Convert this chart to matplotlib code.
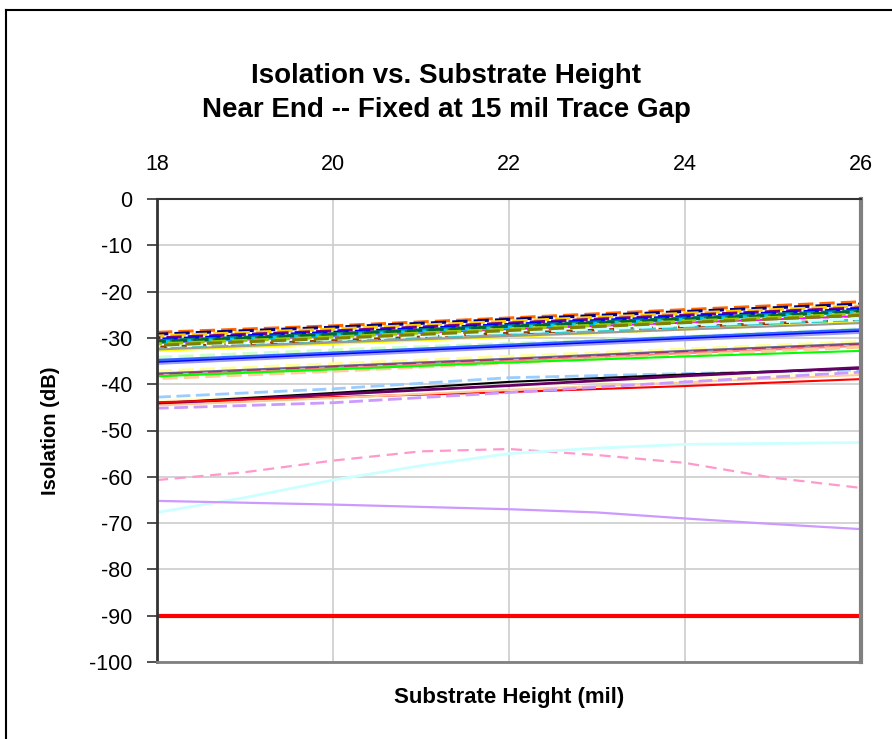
import matplotlib
matplotlib.use("Agg")
import matplotlib.pyplot as plt
from matplotlib.lines import Line2D

plt.rcParams['font.family'] = ['Liberation Sans', 'DejaVu Sans']
plt.rcParams['axes.unicode_minus'] = False

# substrate height (mil)
heights = [18, 20, 22, 24, 26]
heights_fine = [18, 19, 20, 21, 22, 23, 24, 25, 26]

# isolation (dB)
top_bundle = [
    [-28.8, -27.4, -25.7, -23.9, -22.2],
    [-29.2, -27.7, -26.0, -24.3, -22.7],
    [-29.6, -28.1, -26.4, -24.7, -23.1],
    [-30.0, -28.5, -26.8, -25.1, -23.5],
    [-30.3, -28.8, -27.1, -25.4, -23.8],
    [-30.6, -29.1, -27.4, -25.7, -24.1],
    [-30.9, -29.4, -27.7, -26.0, -24.4],
    [-30.8, -29.2, -27.5, -25.9, -24.3],
    [-31.3, -29.8, -28.1, -26.4, -24.8],
    [-31.6, -30.1, -28.4, -26.7, -25.1],
]
mid_bundle = [
    [-31.1, -29.6, -28.1, -26.7, -25.3],
    [-32.0, -30.6, -29.0, -27.6, -26.1],
    [-32.4, -31.0, -29.4, -27.8, -26.1],
    [-31.8, -30.3, -28.8, -27.3, -25.8],
    [-32.8, -31.3, -29.8, -28.2, -26.6],
    [-32.5, -31.0, -29.6, -28.2, -26.8],
]
blue_bundle = [
    [-34.2, -32.6, -31.2, -29.7, -28.0],
    [-34.9, -33.3, -31.6, -29.9, -28.3],
    [-35.3, -33.6, -31.9, -30.2, -28.6],
    [-35.6, -33.9, -32.2, -30.5, -28.9],
]
lower_bundle = [
    [-37.2, -35.6, -34.0, -32.4, -30.8],
    [-37.7, -36.1, -34.5, -32.8, -31.2],
    [-38.0, -36.4, -34.8, -33.1, -31.5],
    [-38.2, -36.6, -35.0, -33.3, -31.7],
    [-38.8, -37.2, -35.4, -33.7, -32.0],
    [-38.3, -36.8, -35.3, -34.0, -32.8],
]
bottom_bundle = [
    [-42.8, -41.0, -38.6, -37.7, -36.9],
    [-43.5, -42.0, -40.3, -38.8, -37.5],
    [-44.1, -41.9, -39.5, -37.9, -36.6],
    [-44.3, -42.2, -40.3, -38.2, -36.4],
    [-43.9, -42.8, -41.7, -40.4, -38.9],
    [-44.6, -43.0, -41.2, -39.6, -38.0],
    [-45.2, -44.0, -41.8, -39.5, -37.4],
]
pink_curve = [-60.7, -59.0, -56.5, -54.5, -54.0, -55.3, -57.0, -60.2, -62.4]
cyan_curve = [-67.7, -64.5, -60.7, -57.6, -55.0, -53.8, -53.0, -52.8, -52.6]
lavender_curve = [-65.2, -65.6, -66.0, -66.5, -67.0, -67.7, -69.0, -70.2, -71.3]
floor_line = [-90, -90, -90, -90, -90]

# styles: (color, dashed, width)
top_styles = [("#FF6600", True, 2.2), ("#000080", True, 2.2), ("#FFCC00", True, 2.2),
              ("#800080", True, 2.2), ("#0000FF", True, 2.2), ("#008080", True, 2.2),
              ("#00CCFF", True, 2.2), ("#006633", True, 2.2), ("#99CC00", True, 2.2),
              ("#808000", True, 2.2)]
mid_styles = [("#FF00FF", False, 1.5), ("#993300", True, 2.0), ("#33CCCC", True, 2.2),
              ("#CCFFFF", True, 2.2), ("#FFFF00", False, 1.5), ("#999999", False, 1.5)]
blue_styles = [("#CCFFCC", True, 2.2), ("#3366FF", False, 2.5), ("#0000FF", False, 1.5),
               ("#9999FF", False, 1.5)]
lower_styles = [("#FFFF99", True, 2.2), ("#666699", False, 1.5), ("#993366", True, 2.0),
                ("#FF8080", False, 1.5), ("#FFCC99", True, 2.2), ("#00FF00", False, 1.5)]
bottom_styles = [("#99CCFF", True, 2.0), ("#FFFFCC", False, 1.5), ("#000000", False, 1.5),
                 ("#660066", False, 2.0), ("#FF0000", False, 1.5), ("#FFCC99", False, 1.5),
                 ("#CC99FF", True, 2.0)]

fig = plt.figure(figsize=(8.92, 7.39), dpi=100)
ax = fig.add_axes([157 / 892, 1 - 662 / 739, (861 - 157) / 892, (662 - 199) / 739])

ax.grid(True, color="#cccccc", linewidth=1.2)
ax.set_axisbelow(True)

ax.plot(heights_fine, pink_curve, color="#FF99CC", linewidth=1.6, linestyle=(0, (5, 3)))
ax.plot(heights_fine, cyan_curve, color="#CCFFFF", linewidth=2.0)
ax.plot(heights_fine, lavender_curve, color="#CC99FF", linewidth=1.6)
ax.plot(heights, floor_line, color="#FF0000", linewidth=3.0)

for k, (group, styles) in enumerate([(bottom_bundle, bottom_styles), (lower_bundle, lower_styles),
                                     (blue_bundle, blue_styles), (mid_bundle, mid_styles),
                                     (top_bundle, top_styles)]):
    for i, (vals, (col, dashed, lw)) in enumerate(zip(group, styles)):
        ls = (i * 1.3, (5, 2)) if dashed else "-"
        ax.plot(heights, vals, color=col, linewidth=lw, linestyle=ls)

ax.set_xlim(18, 26)
ax.set_ylim(-100, 0)
ax.set_xticks([18, 20, 22, 24, 26])
ax.set_yticks(range(-100, 1, 10))
ax.xaxis.tick_top()
ax.tick_params(axis="x", length=0, pad=17, labelsize=15.5)
ax.tick_params(axis="y", direction="out", length=7, width=1.2, pad=11, labelsize=15.5,
               color="#333333")

ax.spines["left"].set_color("#333333")
ax.spines["left"].set_linewidth(2)
ax.spines["top"].set_color("#333333")
ax.spines["top"].set_linewidth(1.5)
ax.spines["bottom"].set_color("#808080")
ax.spines["bottom"].set_linewidth(2)
ax.spines["right"].set_color("#808080")
ax.spines["right"].set_linewidth(3)

fig.text(446 / 892, 1 - 76 / 739, "Isolation vs. Substrate Height", ha="center", va="center",
         fontsize=20, fontweight="bold")
fig.text(446 / 892, 1 - 110 / 739, "Near End -- Fixed at 15 mil Trace Gap", ha="center",
         va="center", fontsize=20, fontweight="bold")
fig.text(51 / 892, 1 - 431 / 739, "Isolation (dB)", rotation=90, ha="center", va="center",
         fontsize=14.5, fontweight="bold")
fig.text(509 / 892, 1 - 698 / 739, "Substrate Height (mil)", ha="center", va="center",
         fontsize=16, fontweight="bold")

# outer chart frame
fig.add_artist(Line2D([6 / 892, 6 / 892], [0, 1 - 10 / 739], color="black", linewidth=1.5,
                      transform=fig.transFigure))
fig.add_artist(Line2D([6 / 892, 1], [1 - 10 / 739, 1 - 10 / 739], color="black", linewidth=1.5,
                      transform=fig.transFigure))

fig.savefig("out.png", dpi=100)
